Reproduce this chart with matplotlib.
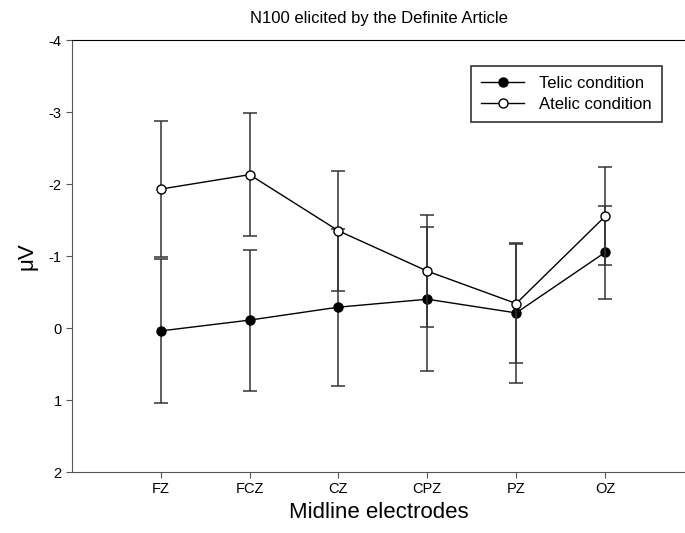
import matplotlib
matplotlib.use('Agg')
import matplotlib.pyplot as plt
from matplotlib.lines import Line2D
import numpy as np

plt.rcParams['font.family'] = ['Liberation Sans', 'DejaVu Sans']
plt.rcParams['axes.unicode_minus'] = False

# Data (y axis inverted: negative up)
electrodes = ['FZ', 'FCZ', 'CZ', 'CPZ', 'PZ', 'OZ']
telic = [0.04, -0.11, -0.29, -0.40, -0.21, -1.05]
telic_err = [1.00, 0.98, 1.09, 1.00, 0.97, 0.64]
atelic = [-1.93, -2.13, -1.35, -0.79, -0.34, -1.55]
atelic_err = [0.95, 0.85, 0.83, 0.78, 0.83, 0.68]

x = np.arange(1, len(electrodes) + 1)

fig = plt.figure(figsize=(6.85, 5.33), dpi=100)
ax = fig.add_axes([0.105, 0.1144, 0.895, 0.8105])

ax.errorbar(x, telic, yerr=telic_err, fmt='-o', color='black', lw=1,
            ecolor='#333333', elinewidth=1.1, capsize=5, capthick=1.1,
            markersize=6.5, markerfacecolor='black', markeredgecolor='black',
            zorder=3)
ax.errorbar(x, atelic, yerr=atelic_err, fmt='-o', color='black', lw=1,
            ecolor='#333333', elinewidth=1.1, capsize=5, capthick=1.1,
            markersize=6.5, markerfacecolor='white', markeredgecolor='black',
            zorder=4)

ax.set_xlim(0, 6.9)
ax.set_ylim(2, -4)
ax.set_xticks(x)
ax.set_xticklabels(electrodes, fontsize=10.5)
ax.set_yticks(range(-4, 3))
ax.tick_params(axis='y', labelsize=10.5, direction='out', length=4, color='#555555')
ax.tick_params(axis='x', direction='out', length=4, color='#555555')

ax.spines['right'].set_visible(False)
for s in ['left', 'bottom']:
    ax.spines[s].set_color('#555555')

ax.set_title('N100 elicited by the Definite Article', fontsize=12, pad=12)
ax.set_xlabel('Midline electrodes', fontsize=16)
ax.set_ylabel('\u03bcV', fontsize=16, labelpad=8)

handles = [
    Line2D([], [], color='black', lw=1, marker='o', markersize=6.5,
           markerfacecolor='black', markeredgecolor='black'),
    Line2D([], [], color='black', lw=1, marker='o', markersize=6.5,
           markerfacecolor='white', markeredgecolor='black'),
]
leg = ax.legend(handles, ['Telic condition', 'Atelic condition'],
                loc='upper right', bbox_to_anchor=(0.9625, 0.94), borderaxespad=0,
                fontsize=12, frameon=True, fancybox=False, edgecolor='black',
                handlelength=2.6, borderpad=0.6, labelspacing=0.35,
                handletextpad=0.9)
leg.get_frame().set_linewidth(1.2)

plt.savefig('out.png', dpi=100)
